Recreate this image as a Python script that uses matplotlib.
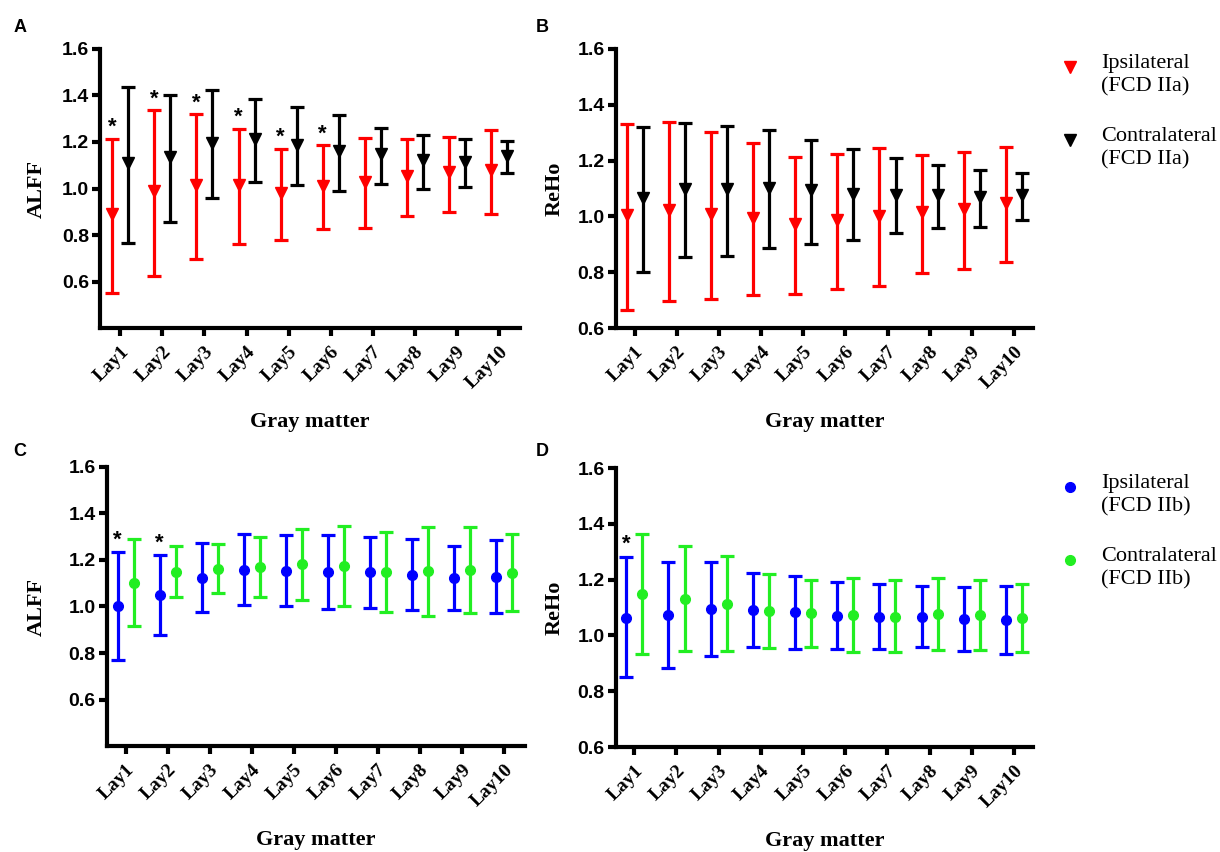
import numpy as np
import matplotlib
matplotlib.use("Agg")
import matplotlib.pyplot as plt
from matplotlib.lines import Line2D

layers = ["Lay1", "Lay2", "Lay3", "Lay4", "Lay5", "Lay6", "Lay7", "Lay8", "Lay9", "Lay10"]

# A: ALFF, FCD IIa (mean, lower, upper)
alff_a_ipsi_mean = [0.889, 0.989, 1.013, 1.015, 0.979, 1.011, 1.029, 1.053, 1.069, 1.078]
alff_a_ipsi_lo = [0.549, 0.624, 0.696, 0.760, 0.780, 0.825, 0.829, 0.881, 0.898, 0.890]
alff_a_ipsi_hi = [1.214, 1.337, 1.320, 1.257, 1.171, 1.187, 1.218, 1.212, 1.222, 1.251]
alff_a_contra_mean = [1.108, 1.136, 1.197, 1.215, 1.187, 1.161, 1.147, 1.121, 1.116, 1.138]
alff_a_contra_lo = [0.765, 0.855, 0.958, 1.029, 1.013, 0.991, 1.019, 0.996, 1.008, 1.066]
alff_a_contra_hi = [1.435, 1.400, 1.423, 1.385, 1.350, 1.317, 1.262, 1.232, 1.215, 1.205]
alff_a_sig = [True, True, True, True, True, True, False, False, False, False]

# B: ReHo, FCD IIa
reho_b_ipsi_mean = [1.006, 1.024, 1.010, 0.994, 0.974, 0.988, 1.000, 1.016, 1.027, 1.048]
reho_b_ipsi_lo = [0.666, 0.696, 0.705, 0.717, 0.723, 0.740, 0.749, 0.797, 0.813, 0.838]
reho_b_ipsi_hi = [1.332, 1.338, 1.304, 1.262, 1.214, 1.225, 1.245, 1.221, 1.230, 1.248]
reho_b_contra_mean = [1.066, 1.099, 1.098, 1.102, 1.093, 1.081, 1.078, 1.076, 1.070, 1.075]
reho_b_contra_lo = [0.800, 0.854, 0.859, 0.886, 0.900, 0.917, 0.939, 0.960, 0.961, 0.986]
reho_b_contra_hi = [1.320, 1.334, 1.325, 1.311, 1.274, 1.242, 1.211, 1.183, 1.167, 1.154]
reho_b_sig = [False] * 10

# C: ALFF, FCD IIb
alff_c_ipsi_mean = [1.001, 1.048, 1.123, 1.157, 1.154, 1.147, 1.147, 1.137, 1.122, 1.127]
alff_c_ipsi_lo = [0.772, 0.879, 0.975, 1.005, 1.003, 0.988, 0.995, 0.985, 0.985, 0.972]
alff_c_ipsi_hi = [1.236, 1.222, 1.273, 1.311, 1.309, 1.308, 1.298, 1.289, 1.260, 1.284]
alff_c_contra_mean = [1.103, 1.150, 1.162, 1.169, 1.182, 1.173, 1.149, 1.151, 1.158, 1.146]
alff_c_contra_lo = [0.915, 1.040, 1.056, 1.041, 1.028, 1.001, 0.977, 0.961, 0.970, 0.982]
alff_c_contra_hi = [1.292, 1.262, 1.270, 1.299, 1.335, 1.346, 1.322, 1.344, 1.342, 1.310]
alff_c_sig = [True, True, False, False, False, False, False, False, False, False]

# D: ReHo, FCD IIb
reho_d_ipsi_mean = [1.063, 1.073, 1.095, 1.090, 1.084, 1.069, 1.067, 1.065, 1.059, 1.055]
reho_d_ipsi_lo = [0.852, 0.884, 0.927, 0.957, 0.953, 0.950, 0.951, 0.958, 0.944, 0.935]
reho_d_ipsi_hi = [1.280, 1.262, 1.262, 1.224, 1.213, 1.192, 1.184, 1.177, 1.175, 1.178]
reho_d_contra_mean = [1.149, 1.131, 1.113, 1.087, 1.079, 1.072, 1.067, 1.075, 1.073, 1.061]
reho_d_contra_lo = [0.933, 0.944, 0.944, 0.955, 0.959, 0.941, 0.939, 0.946, 0.947, 0.942]
reho_d_contra_hi = [1.365, 1.320, 1.283, 1.220, 1.199, 1.204, 1.199, 1.204, 1.198, 1.186]
reho_d_sig = [True, False, False, False, False, False, False, False, False, False]

SANS = "Liberation Sans"
SERIF = "Liberation Serif"
RED, BLACK, BLUE, GREEN = "#ff0000", "#000000", "#0000ff", "#22ee22"

fig = plt.figure(figsize=(12.2, 8.52), dpi=100)


def panel(rect, xlim, ylim, ylabel, ylabel_x, series, marker, ms, sig):
    ax = fig.add_axes(rect)
    x = np.arange(len(layers))
    off = 0.19
    for k, (mean, lo, hi, color) in enumerate(series):
        mean = np.array(mean)
        yerr = [mean - np.array(lo), np.array(hi) - mean]
        xs = x - off if k == 0 else x + off
        ax.errorbar(xs, mean, yerr=yerr, fmt=marker, color=color, ms=ms,
                    elinewidth=2.3, capsize=4.8, capthick=2.3, clip_on=False, zorder=3)
    top = np.array(series[0][2])
    for i, s in enumerate(sig):
        if s:
            ax.text(x[i] - off, top[i] + 0.048, "*", ha="center", va="center",
                    fontsize=16, fontfamily=SANS, fontweight="bold")
    ax.set_xlim(*xlim)
    ax.set_ylim(*ylim)
    ax.set_yticks([0.6, 0.8, 1.0, 1.2, 1.4, 1.6])
    ax.set_yticklabels(["0.6", "0.8", "1.0", "1.2", "1.4", "1.6"],
                       fontfamily=SANS, fontweight="bold", fontsize=14)
    ax.set_xticks(x)
    ax.set_xticklabels(layers, rotation=45, ha="right", va="top", rotation_mode="anchor",
                       fontfamily=SERIF, fontweight="bold", fontsize=14)
    for side in ["top", "right"]:
        ax.spines[side].set_visible(False)
    for side in ["left", "bottom"]:
        ax.spines[side].set_linewidth(3)
    ax.tick_params(axis="both", direction="out", length=6, width=3)
    ax.tick_params(axis="y", pad=2)
    ax.tick_params(axis="x", pad=5)
    ax.set_xlabel("Gray matter", fontfamily=SERIF, fontweight="bold", fontsize=16)
    ax.xaxis.set_label_coords(0.5, -0.30)
    ax.set_ylabel(ylabel, fontfamily=SERIF, fontweight="bold", fontsize=16)
    ax.yaxis.set_label_coords(ylabel_x, 0.5)
    return ax


panel([0.0820, 0.6150, 0.3443, 0.3275], (-0.48, 9.5), (0.4, 1.6), "ALFF", -0.127,
      [(alff_a_ipsi_mean, alff_a_ipsi_lo, alff_a_ipsi_hi, RED),
       (alff_a_contra_mean, alff_a_contra_lo, alff_a_contra_hi, BLACK)],
      "v", 8, alff_a_sig)
panel([0.5049, 0.6150, 0.3418, 0.3275], (-0.44, 9.45), (0.6, 1.6), "ReHo", -0.122,
      [(reho_b_ipsi_mean, reho_b_ipsi_lo, reho_b_ipsi_hi, RED),
       (reho_b_contra_mean, reho_b_contra_lo, reho_b_contra_hi, BLACK)],
      "v", 8, reho_b_sig)
panel([0.0875, 0.1244, 0.3429, 0.3275], (-0.45, 9.5), (0.4, 1.6), "ALFF", -0.144,
      [(alff_c_ipsi_mean, alff_c_ipsi_lo, alff_c_ipsi_hi, BLUE),
       (alff_c_contra_mean, alff_c_contra_lo, alff_c_contra_hi, GREEN)],
      "o", 7, alff_c_sig)
panel([0.5047, 0.1232, 0.3420, 0.3275], (-0.44, 9.45), (0.6, 1.6), "ReHo", -0.122,
      [(reho_d_ipsi_mean, reho_d_ipsi_lo, reho_d_ipsi_hi, BLUE),
       (reho_d_contra_mean, reho_d_contra_lo, reho_d_contra_hi, GREEN)],
      "o", 7, reho_d_sig)

# panel letters
for letter, (px, py) in {"A": (20, 28), "B": (542, 27), "C": (20, 452), "D": (542, 452)}.items():
    fig.text(px / 1220, 1 - py / 852, letter, ha="center", va="center",
             fontfamily=SANS, fontweight="bold", fontsize=13)

# legends (drawn by hand so the marker sits on the first line)
legend_rows = [
    ("v", RED, 8, "Ipsilateral\n(FCD IIa)", 67),
    ("v", BLACK, 8, "Contralateral\n(FCD IIa)", 140),
    ("o", BLUE, 7, "Ipsilateral\n(FCD IIb)", 487),
    ("o", GREEN, 7, "Contralateral\n(FCD IIb)", 560),
]
for mk, col, ms, label, py in legend_rows:
    fig.add_artist(Line2D([1070 / 1220], [1 - py / 852], marker=mk, color=col, ms=ms,
                          linestyle="none", transform=fig.transFigure))
    fig.text(1101 / 1220, 1 - (py - 13) / 852, label, ha="left", va="top",
             fontfamily=SERIF, fontsize=16, linespacing=1.3)

fig.savefig("out.png", dpi=100)
